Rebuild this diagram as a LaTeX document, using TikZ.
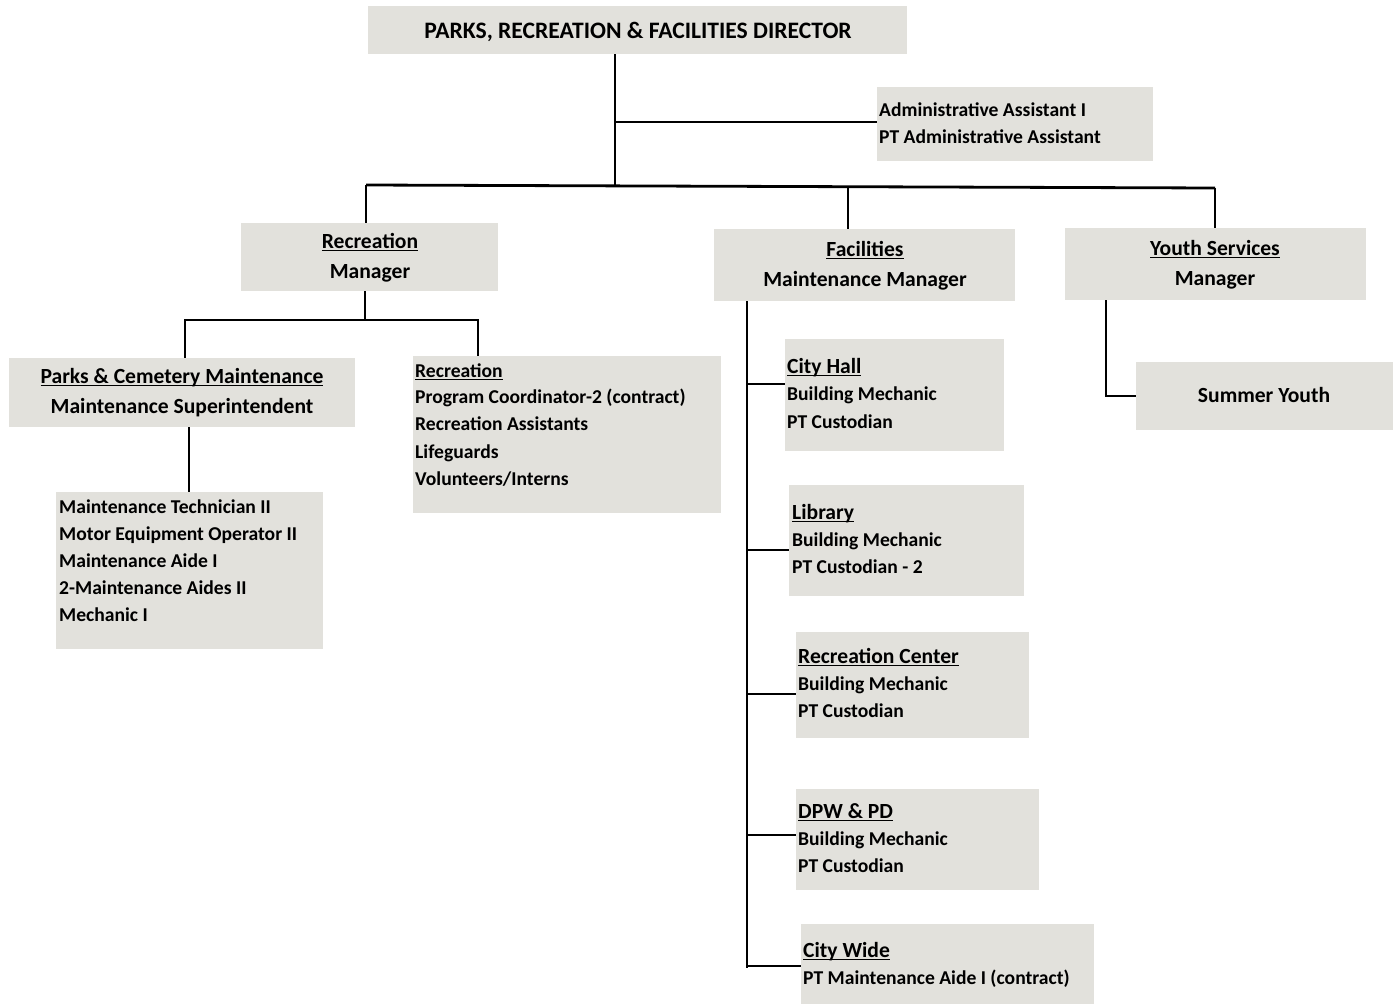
\documentclass[tikz,border=0pt]{standalone}
\usepackage{fontspec}
\setmainfont{Carlito}
\usetikzlibrary{fit}
\definecolor{boxc}{HTML}{E2E1DC}
\newcommand\myul[1]{\setbox0\hbox{#1}\rlap{\rule[-3.2pt]{\wd0}{1.7pt}}\box0}
\begin{document}
\begin{tikzpicture}[x=1pt,y=-1pt,
  box/.style={fill=boxc, inner sep=0pt, draw=none},
  ln/.style={line width=2.8pt, black},
  top/.style={font=\bfseries\fontsize{23.6}{28}\selectfont, inner sep=0pt},
  big/.style={font=\bfseries\fontsize{21.6}{26}\selectfont, inner sep=0pt},
  sm/.style={font=\bfseries\fontsize{19.6}{24}\selectfont, inner sep=0pt}]
\useasboundingbox (0,0) rectangle (1398,1004);
% boxes
\node[box, fit={(368,6)(907,54)}] (dir) {};
\node[box, fit={(877,87)(1153,161)}] (admin) {};
\node[box, fit={(241,223)(498,291)}] (rec) {};
\node[box, fit={(714,229)(1015,301)}] (fac) {};
\node[box, fit={(1065,228)(1366,300)}] (youth) {};
\node[box, fit={(9,358)(355,427)}] (parks) {};
\node[box, fit={(413,356)(721,513)}] (reclist) {};
\node[box, fit={(56,492)(323,649)}] (mlist) {};
\node[box, fit={(785,339)(1004,451)}] (ch) {};
\node[box, fit={(789,485)(1024,596)}] (lib) {};
\node[box, fit={(796,632)(1029,738)}] (rc) {};
\node[box, fit={(796,789)(1039,890)}] (dpw) {};
\node[box, fit={(801,924)(1094,1004)}] (cw) {};
\node[box, fit={(1136,362)(1393,430)}] (sy) {};
% texts
\node[top, anchor=base] (tdir) at (638,38) {PARKS, RECREATION \& FACILITIES DIRECTOR};
\node[sm, anchor=base west] (tad1) at (879,116) {Administrative Assistant I};
\node[sm, anchor=base west] (tad2) at (879,143) {PT Administrative Assistant};
\node[big, anchor=base] (trec1) at (370,248) {\myul{Recreation}};
\node[big, anchor=base] (trec2) at (370,278) {Manager};
\node[big, anchor=base] (tfac1) at (865,256) {\myul{Facilities}};
\node[big, anchor=base] (tfac2) at (865,286) {Maintenance Manager};
\node[big, anchor=base] (ty1) at (1215,255) {\myul{Youth Services}};
\node[big, anchor=base] (ty2) at (1215,285) {Manager};
\node[big, anchor=base] (tp1) at (182,383) {\myul{Parks \& Cemetery Maintenance}};
\node[big, anchor=base] (tp2) at (182,413) {Maintenance Superintendent};
\node[sm, anchor=base west] (trl1) at (415,377) {\myul{Recreation}};
\node[sm, anchor=base west] (trl2) at (415,403) {Program Coordinator-2 (contract)};
\node[sm, anchor=base west] (trl3) at (415,430) {Recreation Assistants};
\node[sm, anchor=base west] (trl4) at (415,458) {Lifeguards};
\node[sm, anchor=base west] (trl5) at (415,485) {Volunteers/Interns};
\node[sm, anchor=base west] (tm1) at (59,513) {Maintenance Technician II};
\node[sm, anchor=base west] (tm2) at (59,540) {Motor Equipment Operator II};
\node[sm, anchor=base west] (tm3) at (59,567) {Maintenance Aide I};
\node[sm, anchor=base west] (tm4) at (59,594) {2-Maintenance Aides II};
\node[sm, anchor=base west] (tm5) at (59,621) {Mechanic I};
\node[big, anchor=base west] (tch1) at (787,373) {\myul{City Hall}};
\node[sm, anchor=base west] (tch2) at (787,400) {Building Mechanic};
\node[sm, anchor=base west] (tch3) at (787,428) {PT Custodian};
\node[big, anchor=base west] (tl1) at (792,519) {\myul{Library}};
\node[sm, anchor=base west] (tl2) at (792,546) {Building Mechanic};
\node[sm, anchor=base west] (tl3) at (792,573) {PT Custodian - 2};
\node[big, anchor=base west] (trc1) at (798,663) {\myul{Recreation Center}};
\node[sm, anchor=base west] (trc2) at (798,690) {Building Mechanic};
\node[sm, anchor=base west] (trc3) at (798,717) {PT Custodian};
\node[big, anchor=base west] (td1) at (798,818) {\myul{DPW \& PD}};
\node[sm, anchor=base west] (td2) at (798,845) {Building Mechanic};
\node[sm, anchor=base west] (td3) at (798,872) {PT Custodian};
\node[big, anchor=base west] (tcw1) at (803,957) {\myul{City Wide}};
\node[sm, anchor=base west] (tcw2) at (803,984) {PT Maintenance Aide I (contract)};
\node[big, anchor=base] (tsy) at (1264,402) {Summer Youth};
% junctions
\coordinate (j0) at (615,187);
\coordinate (ja) at (615,122);
\coordinate (bl) at (366,185);
\coordinate (br) at (1215,188);
\coordinate (jf) at (848,187);
\coordinate (jr) at (365,320);
\coordinate (jp) at (185,320);
\coordinate (jq) at (478,320);
\coordinate (jm) at (189,460);
\coordinate (jfv) at (747,968);
\coordinate (b1) at (747,384);
\coordinate (b2) at (747,550);
\coordinate (b3) at (747,694);
\coordinate (b4) at (747,835);
\coordinate (b5) at (747,966);
\coordinate (jy) at (1106,396);
% connectors
\draw[ln] (dir.south -| j0) -- (j0);
\draw[ln] (ja) -- (ja -| admin.west);
\draw[ln] (bl) -- (br);
\draw[ln] (bl) -- (bl |- rec.north);
\draw[ln] (jf) -- (jf |- fac.north);
\draw[ln] (br) -- (br |- youth.north);
\draw[ln] (rec.south -| jr) -- (jr);
\draw[ln] (jp |- parks.north) -- (jp) -- (jq) -- (jq |- reclist.north);
\draw[ln] (parks.south -| jm) -- (jm |- mlist.north);
\draw[ln] (fac.south -| jfv) -- (jfv);
\draw[ln] (b1) -- (b1 -| ch.west);
\draw[ln] (b2) -- (b2 -| lib.west);
\draw[ln] (b3) -- (b3 -| rc.west);
\draw[ln] (b4) -- (b4 -| dpw.west);
\draw[ln] (b5) -- (b5 -| cw.west);
\draw[ln] (youth.south -| jy) -- (jy) -- (jy -| sy.west);
\end{tikzpicture}
\end{document}
